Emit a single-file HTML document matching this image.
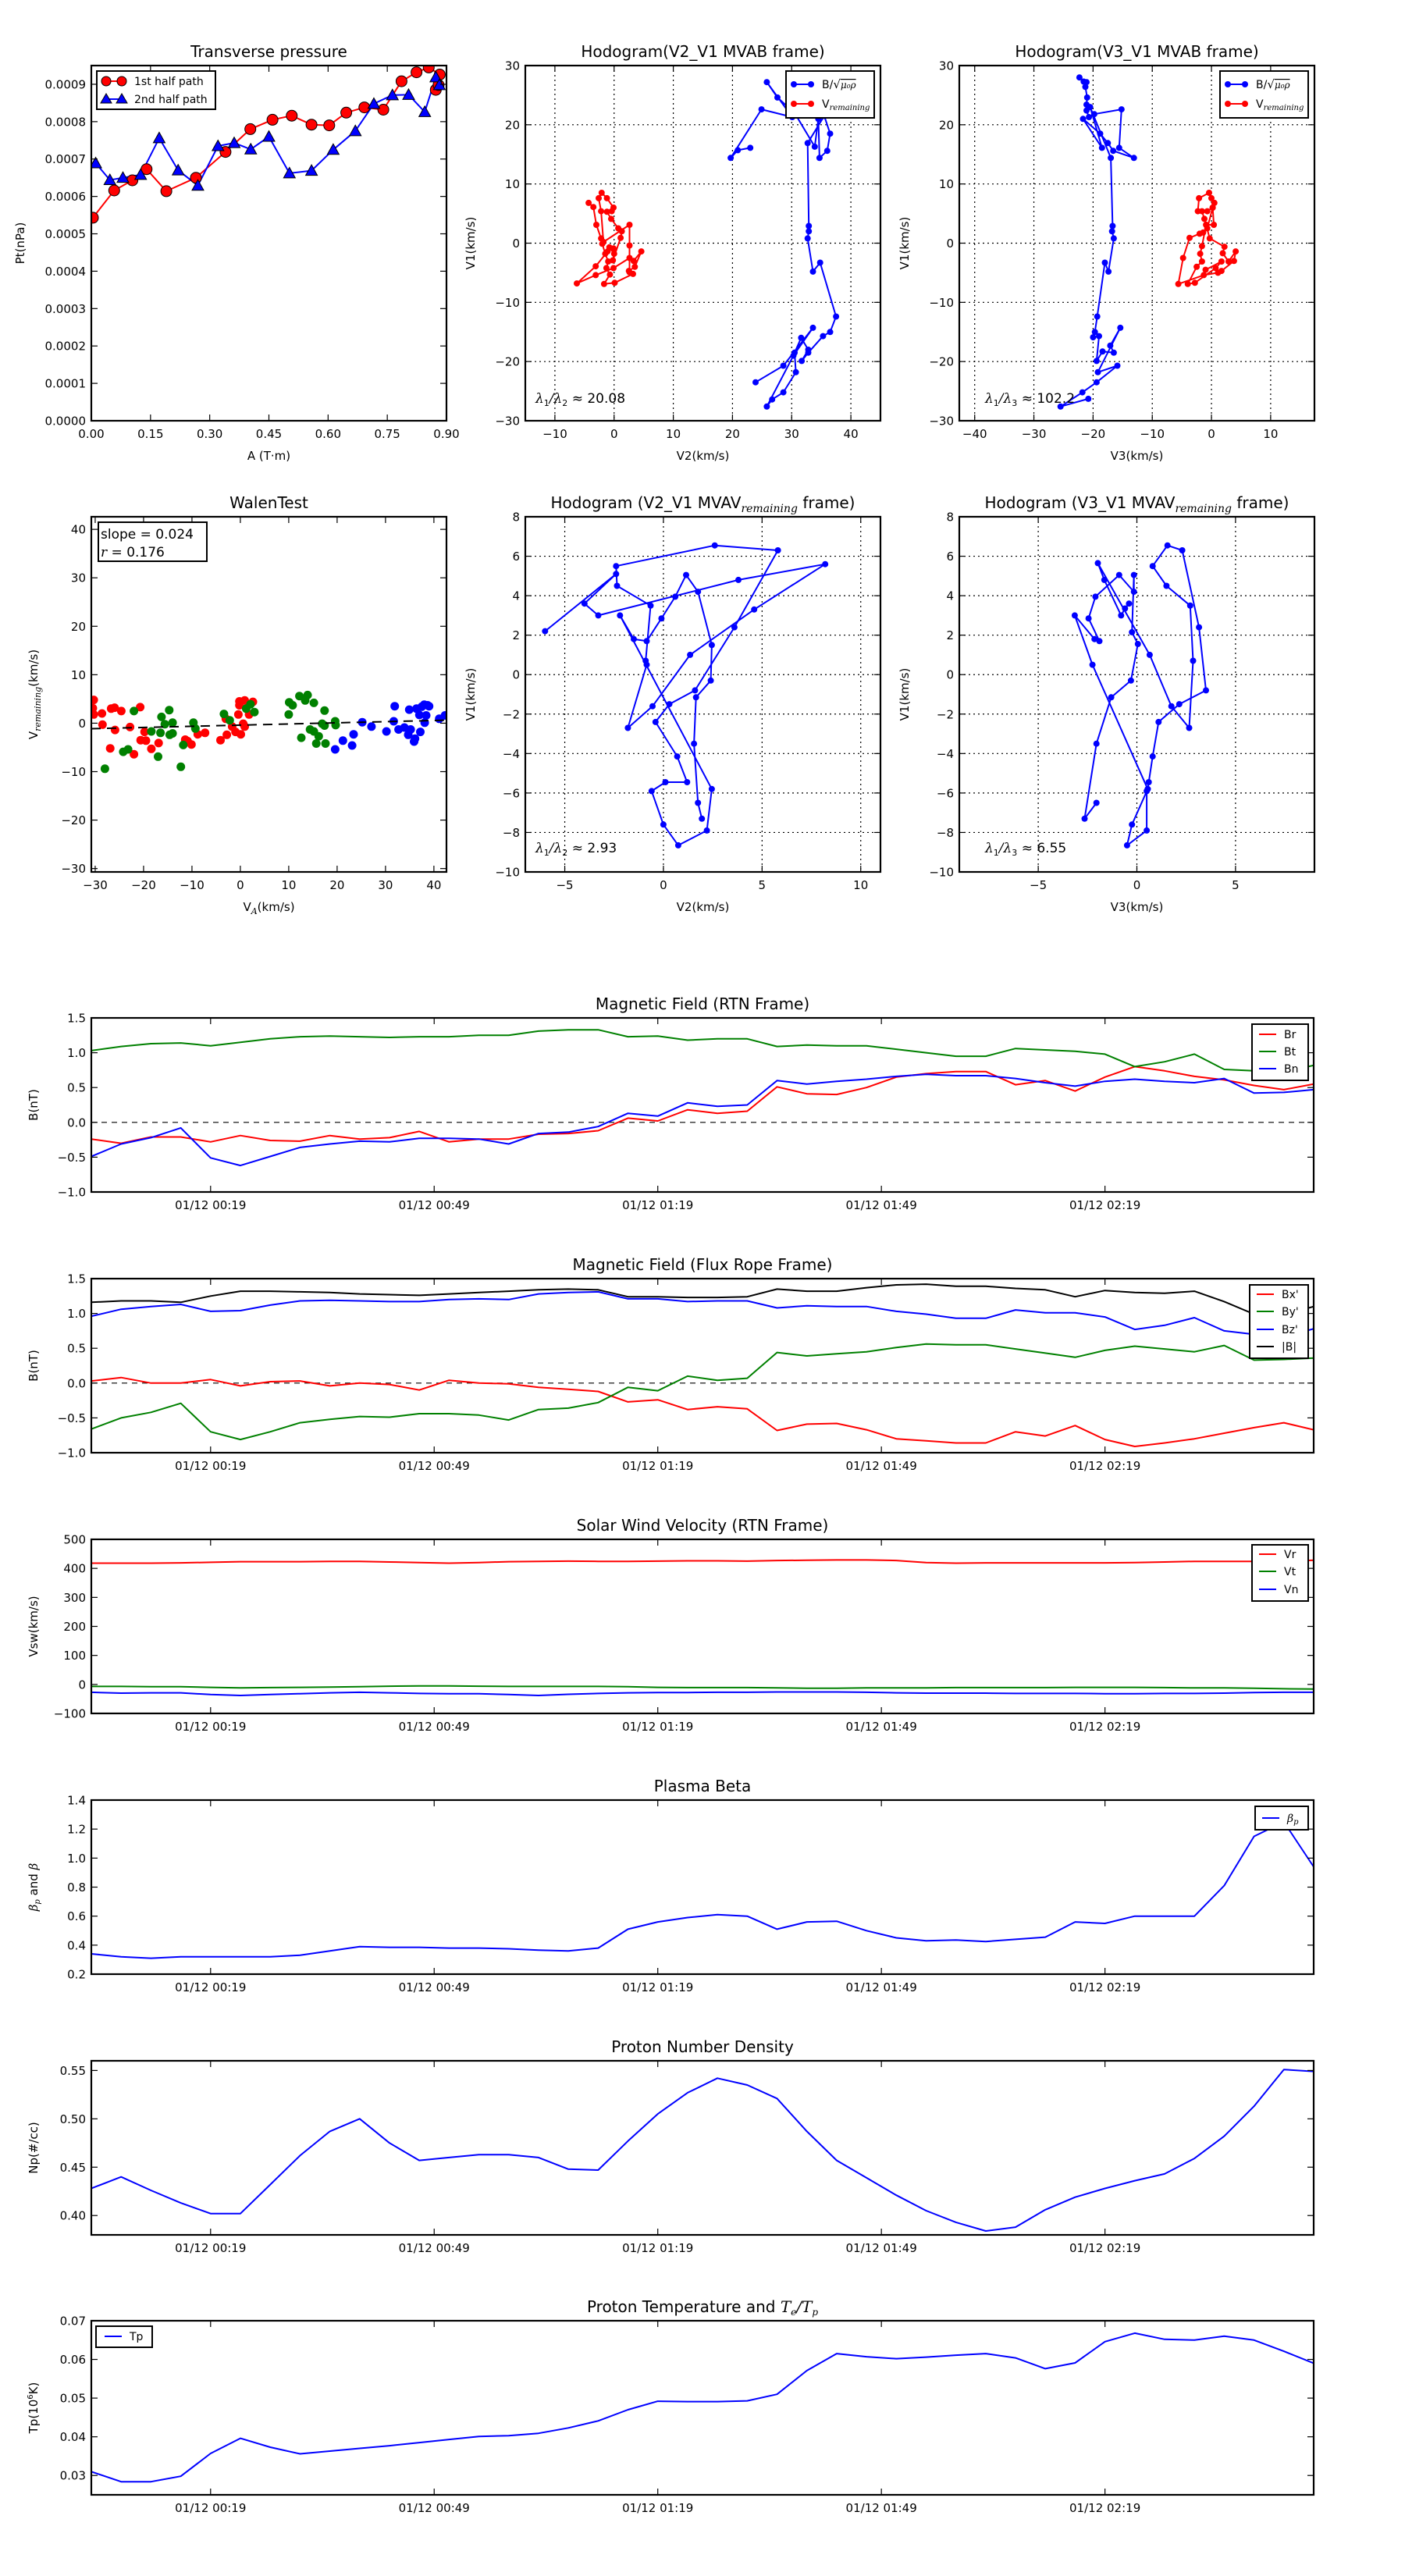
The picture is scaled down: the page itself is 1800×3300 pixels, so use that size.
<!DOCTYPE html>
<html><head><meta charset="utf-8"><title>Flux rope analysis</title>
<style>
html,body{margin:0;padding:0;background:#fff;}
svg{display:block;font-family:"DejaVu Sans","Liberation Sans",sans-serif;}
.m{font-family:"DejaVu Serif","Liberation Serif",serif;font-style:italic;}
</style></head>
<body>
<svg id="fig" xmlns="http://www.w3.org/2000/svg" width="1800" height="3300" viewBox="0 0 1800 3300">
<rect width="1800" height="3300" fill="#fff"/>
</svg>
<script>
// ---------- data ----------
const transA1=[0.004,0.058,0.104,0.140,0.190,0.265,0.340,0.403,0.459,0.508,0.558,0.603,0.646,0.692,0.740,0.786,0.824,0.855,0.883,0.873,0.880];
const transP1=[0.000543,0.000616,0.000643,0.000673,0.000614,0.000650,0.000719,0.000780,0.000805,0.000816,0.000792,0.000790,0.000824,0.000838,0.000832,0.000908,0.000932,0.000945,0.000926,0.000885,0.000898];
const transA2=[0.011,0.047,0.080,0.125,0.172,0.220,0.270,0.321,0.362,0.404,0.450,0.502,0.558,0.613,0.669,0.716,0.763,0.804,0.845,0.873,0.882];
const transP2=[0.000689,0.000644,0.000650,0.000658,0.000756,0.000670,0.000629,0.000735,0.000743,0.000726,0.000760,0.000662,0.000669,0.000725,0.000775,0.000848,0.000871,0.000872,0.000826,0.000919,0.000898];

const hodoA_Bx=[23.0,20.9,19.7,24.9,30.1,25.8,27.6,30.5,33.9,34.5,34.7,36.0,36.5,35.5,32.7,32.9,32.9,32.7,33.6,34.8,37.5,36.5,35.3,32.8,31.7,32.8,31.6,30.5,30.7,28.6,26.7,25.8,30.3,33.6,28.6,23.9];
const hodoA_By=[16.1,15.7,14.4,22.6,21.3,27.2,24.6,22.0,16.3,21.0,14.4,15.6,18.5,21.5,16.9,2.9,2.0,0.8,-4.8,-3.3,-12.4,-15.0,-15.7,-18.5,-19.9,-18.0,-16.0,-18.5,-21.8,-25.2,-26.4,-27.6,-19.0,-14.3,-20.7,-23.5];
const hodoA_Vx=[-4.3,-3.5,-3.0,-2.2,-2.0,-1.5,-1.0,-1.3,-0.7,-1.7,0.1,3.2,2.5,3.5,4.6,3.3,2.6,-0.1,-3.1,-6.3,-3.1,-1.1,-0.1,-0.8,0.0,-0.2,1.1,1.3,0.7,-0.5,-1.2,-0.4,-0.1,-1.2,-2.1,-2.6,-2.2,-1.8,2.6,2.6,2.6];
const hodoA_Vy=[6.8,6.1,3.1,0.8,-0.1,-1.8,-3.1,-4.2,-5.3,-6.9,-6.7,-5.2,-4.7,-4.0,-1.4,-3.0,-2.5,-4.2,-5.4,-6.8,-3.9,-1.4,-0.9,-0.7,-1.8,-2.9,0.9,2.0,2.5,4.1,5.3,5.4,6.0,7.6,8.5,7.6,5.4,0.2,3.1,-0.4,-4.9];

const hodoB_Bx=[-22.3,-21.6,-21.1,-21.3,-21.0,-21.1,-21.1,-20.7,-19.8,-15.2,-15.6,-13.1,-16.6,-17.5,-18.8,-21.7,-18.5,-20.5,-17.0,-16.7,-16.8,-16.5,-17.4,-18.0,-19.3,-19.7,-20.0,-19.0,-19.4,-18.4,-16.5,-17.1,-15.4,-19.2,-15.9,-19.4,-21.8,-25.5,-20.8];
const hodoB_By=[28.0,27.3,27.2,26.4,24.6,23.4,22.4,21.3,21.8,22.6,16.1,14.4,15.6,16.9,18.5,21.0,16.1,23.0,14.4,2.9,2.0,0.8,-4.8,-3.3,-12.4,-15.0,-15.9,-15.7,-19.9,-18.3,-18.5,-17.3,-14.3,-21.8,-20.7,-23.5,-25.2,-27.6,-26.3];
const hodoB_Vx=[-2.3,-2.1,-0.4,0.0,0.5,0.2,-0.7,-1.6,-1.2,-0.9,0.4,0.2,-0.7,-1.4,-2.0,-3.7,-4.8,-5.6,-1.3,1.1,1.7,3.8,4.1,2.9,1.9,2.2,-0.3,-0.9,-1.6,-1.9,-1.6,-2.5,-4.0,-2.8,0.7,1.7,-1.0];
const hodoB_Vy=[5.4,7.6,8.5,7.6,6.8,6.0,5.4,5.4,4.1,3.1,3.1,6.0,2.5,1.8,1.6,0.9,-2.5,-6.9,-5.4,-5.0,-4.7,-3.0,-1.4,-3.1,-1.7,-0.6,0.8,3.1,-0.5,-1.8,-3.1,-4.0,-6.9,-6.7,-4.2,-3.1,-4.5];

const walenRedX=[-30.3,-30.5,-30.3,-28.6,-28.5,-26.7,-26.0,-25.9,-24.6,-26.9,-22.8,-22.0,-20.7,-19.8,-20.6,-19.5,-18.4,-16.9,-11.4,-10.9,-10.1,-8.8,-7.3,-4.1,-2.8,-3.0,-1.7,-1.0,-0.4,-0.2,0.1,0.6,0.9,0.9,1.8,2.6,-0.2];
const walenRedY=[4.8,3.1,1.8,2.0,-0.3,3.0,3.2,-1.4,2.5,-5.2,-0.8,-6.4,3.3,-1.8,-3.5,-3.6,-5.3,-4.1,-3.4,-3.7,-4.4,-2.3,-2.0,-3.5,-2.4,0.9,-0.7,-1.8,1.8,4.5,-2.3,-0.1,-0.7,4.7,1.8,4.4,3.7];
const walenGreenX=[-28.0,-24.2,-23.2,-22.0,-18.4,-16.5,-16.3,-15.6,-14.7,-14.6,-14.0,-14.0,-17.0,-12.3,-11.8,-9.7,-9.3,-3.4,-2.2,1.2,2.1,2.9,10.0,10.1,10.8,12.2,13.4,13.9,15.2,17.4,12.6,14.4,15.2,16.2,15.7,17.6,16.9,17.4,19.6,19.7];
const walenGreenY=[-9.4,-5.9,-5.4,2.5,-1.7,-2.0,1.3,-0.2,2.7,-2.4,0.1,-2.1,-6.9,-9.0,-4.5,0.1,-1.1,1.9,0.6,3.0,3.9,2.3,1.8,4.3,3.7,5.6,4.7,5.8,4.2,2.6,-3.0,-1.3,-1.7,-2.7,-4.2,-4.2,-0.1,-0.5,0.4,-0.4];
const walenBlueX=[19.6,21.2,23.1,23.4,25.2,27.1,30.2,31.9,31.7,32.7,33.9,34.7,34.9,35.2,35.9,36.1,36.4,37.0,37.2,37.5,38.0,38.1,38.4,38.7,39.0,41.1,42.3];
const walenBlueY=[-5.4,-3.6,-4.6,-2.3,0.2,-0.7,-1.7,3.5,0.4,-1.3,-0.9,-2.4,2.8,-1.3,-3.8,-3.2,3.0,1.7,-1.8,3.4,3.8,0.1,1.6,3.7,3.5,0.9,1.6];
const walenSlope=0.024, walenIntercept=-0.4;

const hodoC_x=[-6.0,-2.4,-4.0,-3.3,3.8,8.2,4.6,1.35,-0.55,-1.8,-0.85,-0.9,-0.65,-2.35,-2.4,2.6,5.8,3.6,1.6,0.3,-0.4,0.7,1.2,0.1,-0.6,0.0,0.75,2.2,2.45,-2.2,-1.5,-0.85,-0.1,0.6,1.15,1.75,2.45,2.4,1.65,1.55,1.75,1.95];
const hodoC_y=[2.2,5.1,3.6,3.0,4.8,5.6,3.3,1.0,-1.6,-2.7,0.5,0.7,3.5,4.5,5.5,6.55,6.3,2.4,-0.8,-1.5,-2.4,-4.15,-5.45,-5.45,-5.9,-7.6,-8.65,-7.9,-5.8,3.0,1.8,1.7,2.85,3.95,5.05,4.2,1.5,-0.3,-1.15,-3.5,-6.5,-7.3];
const hodoD_x=[-2.05,-2.65,-2.05,-1.3,-0.3,0.05,-0.25,-0.15,-0.15,-0.9,-2.1,-2.45,-1.9,-2.15,-3.15,-2.25,0.55,0.5,0.5,-0.5,-0.25,0.55,0.6,0.8,1.1,2.15,3.5,3.15,2.3,1.55,0.8,1.5,2.7,2.85,2.65,1.75,0.65,-1.98,-1.65,-0.8,-0.6,-0.4];
const hodoD_y=[-6.5,-7.3,-3.5,-1.15,-0.3,1.55,2.15,5.05,4.2,5.05,3.95,2.85,1.7,1.8,3.0,0.5,-5.8,-5.9,-7.9,-8.65,-7.6,-5.8,-5.45,-4.15,-2.4,-1.5,-0.8,2.4,6.3,6.55,5.5,4.5,3.5,0.7,-2.7,-1.6,1.0,5.65,4.8,3.0,3.35,3.6];

const timeMin=[0,4,8,12,16,20,24,28,32,36,40,44,48,52,56,60,64,68,72,76,80,84,88,92,96,100,104,108,112,116,120,124,128,132,136,140,144,148,152,156,160,164];
const timeTickMin=[16,46,76,106,136];
const timeTickLabels=["01/12 00:19","01/12 00:49","01/12 01:19","01/12 01:49","01/12 02:19"];
const Br=[-0.24,-0.30,-0.21,-0.21,-0.28,-0.19,-0.26,-0.27,-0.19,-0.24,-0.22,-0.13,-0.28,-0.24,-0.24,-0.17,-0.16,-0.12,0.06,0.02,0.18,0.13,0.16,0.51,0.41,0.40,0.50,0.65,0.70,0.73,0.73,0.54,0.60,0.45,0.65,0.80,0.74,0.66,0.61,0.53,0.47,0.55];
const Bt=[1.03,1.09,1.13,1.14,1.10,1.15,1.20,1.23,1.24,1.23,1.22,1.23,1.23,1.25,1.25,1.31,1.33,1.33,1.23,1.24,1.18,1.20,1.20,1.09,1.11,1.10,1.10,1.05,1.00,0.95,0.95,1.06,1.04,1.02,0.98,0.80,0.87,0.98,0.76,0.74,0.72,0.82];
const Bn=[-0.49,-0.31,-0.22,-0.08,-0.51,-0.62,-0.49,-0.36,-0.31,-0.27,-0.28,-0.23,-0.23,-0.24,-0.31,-0.16,-0.14,-0.06,0.13,0.09,0.28,0.23,0.25,0.60,0.55,0.59,0.62,0.66,0.69,0.67,0.67,0.63,0.57,0.52,0.59,0.62,0.59,0.57,0.63,0.42,0.43,0.47];
const Bxp=[0.03,0.08,0.00,0.00,0.05,-0.04,0.02,0.03,-0.04,0.00,-0.02,-0.10,0.04,0.00,-0.01,-0.06,-0.09,-0.12,-0.27,-0.24,-0.38,-0.34,-0.37,-0.68,-0.59,-0.58,-0.67,-0.80,-0.83,-0.86,-0.86,-0.70,-0.76,-0.61,-0.81,-0.91,-0.86,-0.80,-0.72,-0.64,-0.57,-0.67];
const Byp=[-0.66,-0.50,-0.42,-0.29,-0.70,-0.81,-0.70,-0.57,-0.52,-0.48,-0.49,-0.44,-0.44,-0.46,-0.53,-0.38,-0.36,-0.28,-0.06,-0.11,0.10,0.04,0.07,0.44,0.39,0.42,0.45,0.51,0.56,0.55,0.55,0.49,0.43,0.37,0.47,0.53,0.49,0.45,0.54,0.33,0.34,0.36];
const Bzp=[0.96,1.06,1.10,1.13,1.03,1.04,1.12,1.18,1.19,1.18,1.17,1.17,1.20,1.21,1.20,1.28,1.30,1.31,1.21,1.21,1.17,1.18,1.18,1.08,1.11,1.10,1.10,1.03,0.99,0.93,0.93,1.05,1.01,1.01,0.95,0.77,0.83,0.94,0.75,0.70,0.66,0.78];
const Bmag=[1.16,1.18,1.18,1.16,1.25,1.32,1.32,1.31,1.30,1.28,1.27,1.26,1.28,1.30,1.32,1.34,1.35,1.34,1.24,1.24,1.23,1.23,1.24,1.35,1.32,1.32,1.37,1.41,1.42,1.39,1.39,1.36,1.34,1.24,1.33,1.30,1.29,1.32,1.17,0.99,0.98,1.10];
const Vr=[418,418,418,419,421,423,423,423,424,424,422,420,418,420,423,424,425,424,424,425,426,426,425,427,428,429,429,427,420,418,419,419,419,419,419,420,422,424,424,424,424,428];
const Vt=[-7,-7,-8,-8,-10,-12,-11,-10,-9,-8,-6,-5,-5,-6,-7,-7,-7,-7,-8,-10,-11,-11,-11,-12,-13,-13,-12,-12,-12,-11,-11,-11,-11,-10,-10,-10,-11,-12,-12,-13,-15,-16];
const Vn=[-27,-30,-29,-29,-35,-38,-35,-32,-29,-27,-29,-31,-32,-32,-35,-38,-34,-31,-29,-28,-28,-27,-27,-26,-26,-26,-27,-29,-30,-30,-30,-31,-31,-31,-32,-32,-31,-31,-30,-28,-27,-27];
const betaP=[0.34,0.32,0.31,0.32,0.32,0.32,0.32,0.33,0.36,0.39,0.385,0.385,0.38,0.38,0.375,0.365,0.36,0.38,0.51,0.56,0.59,0.61,0.60,0.51,0.56,0.565,0.50,0.45,0.43,0.435,0.425,0.44,0.455,0.56,0.55,0.60,0.60,0.60,0.81,1.15,1.25,0.94];
const Np=[0.428,0.440,0.426,0.413,0.402,0.402,0.432,0.462,0.487,0.500,0.475,0.457,0.460,0.463,0.463,0.460,0.448,0.447,0.477,0.505,0.527,0.542,0.535,0.521,0.487,0.457,0.439,0.421,0.405,0.393,0.384,0.388,0.406,0.419,0.428,0.436,0.443,0.459,0.482,0.513,0.551,0.549];
const Tp=[0.031,0.0284,0.0284,0.0298,0.0357,0.0396,0.0373,0.0356,0.0363,0.0370,0.0377,0.0385,0.0393,0.0401,0.0403,0.0409,0.0423,0.0441,0.0470,0.0492,0.0491,0.0491,0.0493,0.0510,0.0571,0.0615,0.0607,0.0602,0.0606,0.0611,0.0615,0.0604,0.0576,0.0591,0.0646,0.0668,0.0652,0.0650,0.0660,0.0650,0.0621,0.0590];

// ---------- helpers ----------
const NS='http://www.w3.org/2000/svg';
const svg=document.getElementById('fig');
function mk(tag,attrs,parent){const e=document.createElementNS(NS,tag);for(const k in attrs)e.setAttribute(k,attrs[k]);parent.appendChild(e);return e;}
function lin(d,r0,r1){return v=>r0+(v-d[0])/(d[1]-d[0])*(r1-r0);}
function fmt(s){return String(s).replace(/^-/,'\u2212');}
function range(a,b,s){const o=[];for(let v=a;v<=b+1e-9;v+=s)o.push(+v.toFixed(6));return o;}
let cid=0;
function axes(name,box,xd,yd,xt,xl,yt,yl,grid){
  const g=mk('g',{},svg);
  
  
  const sx=lin(xd,box.x,box.x+box.w), sy=lin(yd,box.y+box.h,box.y);
  const id='clip'+(cid++);
  const cp=mk('clipPath',{id:id},g);
  mk('rect',{x:box.x,y:box.y,width:box.w,height:box.h},cp);
  if(grid){
    const gg=mk('g',{stroke:'#000','stroke-width':1.2,'stroke-dasharray':'2,4'},g);
    
    
    xt.forEach(v=>{const x=sx(v);if(x>box.x+1&&x<box.x+box.w-1)mk('line',{x1:x,x2:x,y1:box.y,y2:box.y+box.h},gg);});
    yt.forEach(v=>{const y=sy(v);if(y>box.y+1&&y<box.y+box.h-1)mk('line',{x1:box.x,x2:box.x+box.w,y1:y,y2:y},gg);});
  }
  const plot=mk('g',{'clip-path':'url(#'+id+')'},g);
  
  
  const tk=mk('g',{stroke:'#000','stroke-width':1.2},g);
  
  
  const lab=mk('g',{'font-size':15,fill:'#000'},g);
  
  
  xt.forEach((v,i)=>{const x=sx(v);if(x<box.x-0.5||x>box.x+box.w+0.5)return;
    mk('line',{x1:x,x2:x,y1:box.y+box.h,y2:box.y+box.h-8},tk);
    mk('line',{x1:x,x2:x,y1:box.y,y2:box.y+8},tk);
    const t=mk('text',{x:x,y:box.y+box.h+22,'text-anchor':'middle'},lab);
    
    
    t.textContent=xl[i];});
  yt.forEach((v,i)=>{const y=sy(v);if(y<box.y-0.5||y>box.y+box.h+0.5)return;
    mk('line',{x1:box.x,x2:box.x+8,y1:y,y2:y},tk);
    mk('line',{x1:box.x+box.w,x2:box.x+box.w-8,y1:y,y2:y},tk);
    const t=mk('text',{x:box.x-7,y:y+5.5,'text-anchor':'end'},lab);
    
    
    t.textContent=yl[i];});
  const fr=mk('rect',{x:box.x,y:box.y,width:box.w,height:box.h,fill:'none',stroke:'#000','stroke-width':2.2},g);
  
  
  return {g,plot,sx,sy,box};
}
function title(ax,html){const t=mk('text',{x:ax.box.x+ax.box.w/2,y:ax.box.y-11,'text-anchor':'middle','font-size':20},ax.g);
  
  
  t.innerHTML=html;}
function xlabel(ax,html,dy){const t=mk('text',{x:ax.box.x+ax.box.w/2,y:ax.box.y+ax.box.h+(dy||50),'text-anchor':'middle','font-size':15},ax.g);
  
  
  t.innerHTML=html;}
function ylabel(ax,html,off){const cx=ax.box.x-off, cy=ax.box.y+ax.box.h/2;
  const t=mk('text',{x:cx,y:cy,'text-anchor':'middle','font-size':15,transform:'rotate(-90 '+cx+' '+cy+')'},ax.g);
  
  
  t.innerHTML=html;}
function line(ax,xs,ys,color,name,w){const pts=xs.map((x,i)=>ax.sx(x).toFixed(1)+','+ax.sy(ys[i]).toFixed(1)).join(' ');
  const p=mk('polyline',{points:pts,fill:'none',stroke:color,'stroke-width':w||2,'stroke-linejoin':'round'},ax.plot);
  
  
  return p;}
function dots(ax,xs,ys,color,r,name,edge){const g=mk('g',{fill:color},ax.plot);
  
  
  xs.forEach((x,i)=>{const c=mk('circle',{cx:ax.sx(x).toFixed(1),cy:ax.sy(ys[i]).toFixed(1),r:r},g);
    if(edge){c.setAttribute('stroke','#000');c.setAttribute('stroke-width',1);}
    
    });}
function tris(ax,xs,ys,color,s,name){const g=mk('g',{fill:color,stroke:'#000','stroke-width':1},ax.plot);
  
  
  xs.forEach((x,i)=>{const cx=ax.sx(x),cy=ax.sy(ys[i]);
    const p=mk('polygon',{points:(cx)+','+(cy-s)+' '+(cx-s)+','+(cy+s*0.8)+' '+(cx+s)+','+(cy+s*0.8)},g);
    
    });}
function legendBox(parent,x,y,w,h,name){const g=mk('g',{},parent);
  
  
  mk('rect',{x:x,y:y,width:w,height:h,fill:'#fff',stroke:'#000','stroke-width':2},g);return g;}
function legendEntry(g,x,y,color,html,marker,fs){const e=mk('g',{},g);
  
  
  mk('line',{x1:x,x2:x+22,y1:y,y2:y,stroke:color,'stroke-width':2},e);
  if(marker==='dot'){mk('circle',{cx:x,cy:y,r:4,fill:color},e);mk('circle',{cx:x+22,cy:y,r:4,fill:color},e);}
  const t=mk('text',{x:x+(marker?36:32),y:y+5,'font-size':fs||14},e);
  t.innerHTML=html;}
const TSUB=(s)=>'<tspan class="m" font-size="11" dy="4">'+s+'</tspan><tspan dy="-4"></tspan>';

// ---------- Transverse pressure ----------
(function(){
  const xt=range(0,0.9,0.15), yt=range(0,0.0009,0.0001);
  const ax=axes('transverse-pressure-chart',{x:117,y:84,w:455,h:455},[0,0.9],[0,0.00095],xt,xt.map(v=>v.toFixed(2)),yt,yt.map(v=>v.toFixed(4)),false);
  title(ax,'Transverse pressure');xlabel(ax,'A (T·m)');ylabel(ax,'Pt(nPa)',86);
  line(ax,transA1,transP1,'#f00','first-half-line',2);
  line(ax,transA2,transP2,'#00f','second-half-line',2);
  dots(ax,transA1,transP1,'#f00',7,'first-half-markers',true);
  tris(ax,transA2,transP2,'#00f',7.5,'second-half-markers');
  const lg=legendBox(ax.g,124,91,152,49,'legend');
  const e1=mk('g',{},lg);
  
  
  mk('line',{x1:136,x2:156,y1:104,y2:104,stroke:'#f00','stroke-width':2},e1);
  mk('circle',{cx:136,cy:104,r:6,fill:'#f00',stroke:'#000'},e1);mk('circle',{cx:156,cy:104,r:6,fill:'#f00',stroke:'#000'},e1);
  mk('text',{x:172,y:109,'font-size':14},e1).textContent='1st half path';
  const e2=mk('g',{},lg);
  
  
  mk('line',{x1:136,x2:156,y1:127,y2:127,stroke:'#00f','stroke-width':2},e2);
  mk('polygon',{points:'136,120 129,132 143,132',fill:'#00f',stroke:'#000'},e2);mk('polygon',{points:'156,120 149,132 163,132',fill:'#00f',stroke:'#000'},e2);
  mk('text',{x:172,y:132,'font-size':14},e2).textContent='2nd half path';
})();

// ---------- Hodograms MVAB ----------
function hodoLegend(ax,x){const lg=legendBox(ax.g,x,91,113,60,'legend');
  legendEntry(lg,x+10,108,'#00f','B/<tspan font-size="15">√</tspan><tspan class="m" font-size="12" text-decoration="overline">μ₀ρ</tspan>','dot',14);
  legendEntry(lg,x+10,133,'#f00','V'+'<tspan class="m" font-size="10" dy="3">remaining</tspan>','dot',14);}
function note(ax,x,y,html){const t=mk('text',{x:x,y:y,'font-size':17},ax.g);
  
  
  t.innerHTML=html;}
(function(){
  const xt=range(-10,40,10), yt=range(-30,30,10);
  const ax=axes('hodogram-v2-v1-mvab',{x:673,y:84,w:455,h:455},[-15,45],[-30,30],xt,xt.map(fmt),yt,yt.map(fmt),true);
  title(ax,'Hodogram(V2_V1 MVAB frame)');xlabel(ax,'V2(km/s)');ylabel(ax,'V1(km/s)',65);
  line(ax,hodoA_Bx,hodoA_By,'#00f','alfven-velocity-path');dots(ax,hodoA_Bx,hodoA_By,'#00f',4,'alfven-velocity-points');
  line(ax,hodoA_Vx,hodoA_Vy,'#f00','remaining-velocity-path');dots(ax,hodoA_Vx,hodoA_Vy,'#f00',4,'remaining-velocity-points');
  hodoLegend(ax,1007);
  note(ax,686,516,'<tspan class="m">λ</tspan><tspan font-size="11" dy="4">1</tspan><tspan dy="-4" class="m">/λ</tspan><tspan font-size="11" dy="4">2</tspan><tspan dy="-4"> ≈ 20.08</tspan>');
})();
(function(){
  const xt=range(-40,10,10), yt=range(-30,30,10);
  const ax=axes('hodogram-v3-v1-mvab',{x:1229,y:84,w:455,h:455},[-42.6,17.4],[-30,30],xt,xt.map(fmt),yt,yt.map(fmt),true);
  title(ax,'Hodogram(V3_V1 MVAB frame)');xlabel(ax,'V3(km/s)');ylabel(ax,'V1(km/s)',65);
  line(ax,hodoB_Bx,hodoB_By,'#00f','alfven-velocity-path');dots(ax,hodoB_Bx,hodoB_By,'#00f',4,'alfven-velocity-points');
  line(ax,hodoB_Vx,hodoB_Vy,'#f00','remaining-velocity-path');dots(ax,hodoB_Vx,hodoB_Vy,'#f00',4,'remaining-velocity-points');
  hodoLegend(ax,1563);
  note(ax,1262,516,'<tspan class="m">λ</tspan><tspan font-size="11" dy="4">1</tspan><tspan dy="-4" class="m">/λ</tspan><tspan font-size="11" dy="4">3</tspan><tspan dy="-4"> ≈ 102.2</tspan>');
})();

// ---------- Walen test ----------
(function(){
  const xt=range(-30,40,10), yt=range(-30,40,10);
  const ax=axes('walen-test-chart',{x:117,y:662,w:455,h:455},[-30.8,42.6],[-30.7,42.6],xt,xt.map(fmt),yt,yt.map(fmt),false);
  title(ax,'WalenTest');
  xlabel(ax,'V<tspan class="m" font-size="11" dy="4">A</tspan><tspan dy="-4">(km/s)</tspan>');
  ylabel(ax,'V<tspan class="m" font-size="11" dy="4">remaining</tspan><tspan dy="-4">(km/s)</tspan>',69);
  dots(ax,walenRedX,walenRedY,'#f00',5.5,'walen-red-points');
  dots(ax,walenGreenX,walenGreenY,'#008000',5.5,'walen-green-points');
  dots(ax,walenBlueX,walenBlueY,'#00f',5.5,'walen-blue-points');
  const fx=[-30.8,42.6];
  const fl=line(ax,fx,fx.map(v=>walenSlope*v+walenIntercept),'#000','walen-fit-line',2);
  fl.setAttribute('stroke-dasharray','12,8');
  const bx=legendBox(ax.g,126,669,139,50,'walen-stats-box');
  mk('text',{x:129,y:690,'font-size':17},bx).textContent='slope = 0.024';
  mk('text',{x:129,y:713,'font-size':17},bx).innerHTML='<tspan class="m">r</tspan> = 0.176';
})();

// ---------- Hodograms MVAV ----------
(function(){
  const xt=range(-5,10,5), yt=range(-10,8,2);
  const ax=axes('hodogram-v2-v1-mvav',{x:673,y:662,w:455,h:455},[-7,11],[-10,8],xt,xt.map(fmt),yt,yt.map(fmt),true);
  title(ax,'Hodogram (V2_V1 MVAV<tspan class="m" font-size="14" dy="5">remaining</tspan><tspan dy="-5"> frame)</tspan>');
  xlabel(ax,'V2(km/s)');ylabel(ax,'V1(km/s)',65);
  line(ax,hodoC_x,hodoC_y,'#00f','remaining-velocity-path');dots(ax,hodoC_x,hodoC_y,'#00f',4,'remaining-velocity-points');
  note(ax,686,1092,'<tspan class="m">λ</tspan><tspan font-size="11" dy="4">1</tspan><tspan dy="-4" class="m">/λ</tspan><tspan font-size="11" dy="4">2</tspan><tspan dy="-4"> ≈ 2.93</tspan>');
})();
(function(){
  const xt=range(-5,5,5), yt=range(-10,8,2);
  const ax=axes('hodogram-v3-v1-mvav',{x:1229,y:662,w:455,h:455},[-9,9],[-10,8],xt,xt.map(fmt),yt,yt.map(fmt),true);
  title(ax,'Hodogram (V3_V1 MVAV<tspan class="m" font-size="14" dy="5">remaining</tspan><tspan dy="-5"> frame)</tspan>');
  xlabel(ax,'V3(km/s)');ylabel(ax,'V1(km/s)',65);
  line(ax,hodoD_x,hodoD_y,'#00f','remaining-velocity-path');dots(ax,hodoD_x,hodoD_y,'#00f',4,'remaining-velocity-points');
  note(ax,1262,1092,'<tspan class="m">λ</tspan><tspan font-size="11" dy="4">1</tspan><tspan dy="-4" class="m">/λ</tspan><tspan font-size="11" dy="4">3</tspan><tspan dy="-4"> ≈ 6.55</tspan>');
})();

// ---------- time series ----------
function tsAxes(name,top,yd,yt,yl,ttl,ylab){
  const ax=axes(name,{x:117,y:top,w:1566,h:223},[0,164],yd,timeTickMin,timeTickLabels,yt,yl,false);
  title(ax,ttl);ylabel(ax,ylab,69);return ax;}
function zeroLine(ax){const l=mk('line',{x1:ax.box.x,x2:ax.box.x+ax.box.w,y1:ax.sy(0),y2:ax.sy(0),stroke:'#000','stroke-width':1.2,'stroke-dasharray':'7,6'},ax.plot);
  
  }
(function(){
  const yt=range(-1,1.5,0.5);
  const ax=tsAxes('magnetic-field-rtn-chart',1304,[-1,1.5],yt,yt.map(v=>fmt(v.toFixed(1))),'Magnetic Field (RTN Frame)','B(nT)');
  zeroLine(ax);
  line(ax,timeMin,Br,'#f00','series-br');line(ax,timeMin,Bt,'#008000','series-bt');line(ax,timeMin,Bn,'#00f','series-bn');
  const lg=legendBox(ax.g,1604,1312,72,72,'legend');
  legendEntry(lg,1613,1325,'#f00','Br');legendEntry(lg,1613,1347,'#008000','Bt');legendEntry(lg,1613,1369,'#00f','Bn');
})();
(function(){
  const yt=range(-1,1.5,0.5);
  const ax=tsAxes('magnetic-field-flux-rope-chart',1638,[-1,1.5],yt,yt.map(v=>fmt(v.toFixed(1))),'Magnetic Field (Flux Rope Frame)','B(nT)');
  zeroLine(ax);
  line(ax,timeMin,Bxp,'#f00','series-bx-prime');line(ax,timeMin,Byp,'#008000','series-by-prime');
  line(ax,timeMin,Bzp,'#00f','series-bz-prime');line(ax,timeMin,Bmag,'#000','series-b-magnitude');
  const lg=legendBox(ax.g,1601,1646,75,94,'legend');
  legendEntry(lg,1610,1658,'#f00',"Bx'");legendEntry(lg,1610,1680,'#008000',"By'");
  legendEntry(lg,1610,1703,'#00f',"Bz'");legendEntry(lg,1610,1725,'#000','|B|');
})();
(function(){
  const yt=range(-100,500,100);
  const ax=tsAxes('solar-wind-velocity-chart',1972,[-100,500],yt,yt.map(v=>fmt(v)),'Solar Wind Velocity (RTN Frame)','Vsw(km/s)');
  line(ax,timeMin,Vr,'#f00','series-vr');line(ax,timeMin,Vt,'#008000','series-vt');line(ax,timeMin,Vn,'#00f','series-vn');
  const lg=legendBox(ax.g,1604,1979,72,72,'legend');
  legendEntry(lg,1613,1991,'#f00','Vr');legendEntry(lg,1613,2013,'#008000','Vt');legendEntry(lg,1613,2036,'#00f','Vn');
})();
(function(){
  const yt=range(0.2,1.4,0.2);
  const ax=tsAxes('plasma-beta-chart',2306,[0.2,1.4],yt,yt.map(v=>v.toFixed(1)),'Plasma Beta','<tspan class="m">β</tspan><tspan class="m" font-size="10" dy="3">p</tspan><tspan dy="-3"> and </tspan><tspan class="m">β</tspan>');
  line(ax,timeMin,betaP,'#00f','series-beta-p');
  const lg=legendBox(ax.g,1608,2314,68,30,'legend');
  legendEntry(lg,1617,2329,'#00f','<tspan class="m">β</tspan><tspan class="m" font-size="10" dy="3">p</tspan>');
})();
(function(){
  const yt=[0.40,0.45,0.50,0.55];
  const ax=tsAxes('proton-density-chart',2640,[0.38,0.56],yt,yt.map(v=>v.toFixed(2)),'Proton Number Density','Np(#/cc)');
  line(ax,timeMin,Np,'#00f','series-np');
})();
(function(){
  const yt=range(0.03,0.07,0.01);
  const ax=tsAxes('proton-temperature-chart',2973,[0.025,0.07],yt,yt.map(v=>v.toFixed(2)),'Proton Temperature and <tspan class="m">T</tspan><tspan class="m" font-size="12" dy="4">e</tspan><tspan class="m" dy="-4">/T</tspan><tspan class="m" font-size="12" dy="4">p</tspan><tspan dy="-4"></tspan>','Tp(10<tspan font-size="10" dy="-6">6</tspan><tspan dy="6">K)</tspan>');
  line(ax,timeMin,Tp,'#00f','series-tp');
  const lg=legendBox(ax.g,123,2980,72,27,'legend');
  legendEntry(lg,134,2993,'#00f','Tp');
})();
</script>
</body></html>
